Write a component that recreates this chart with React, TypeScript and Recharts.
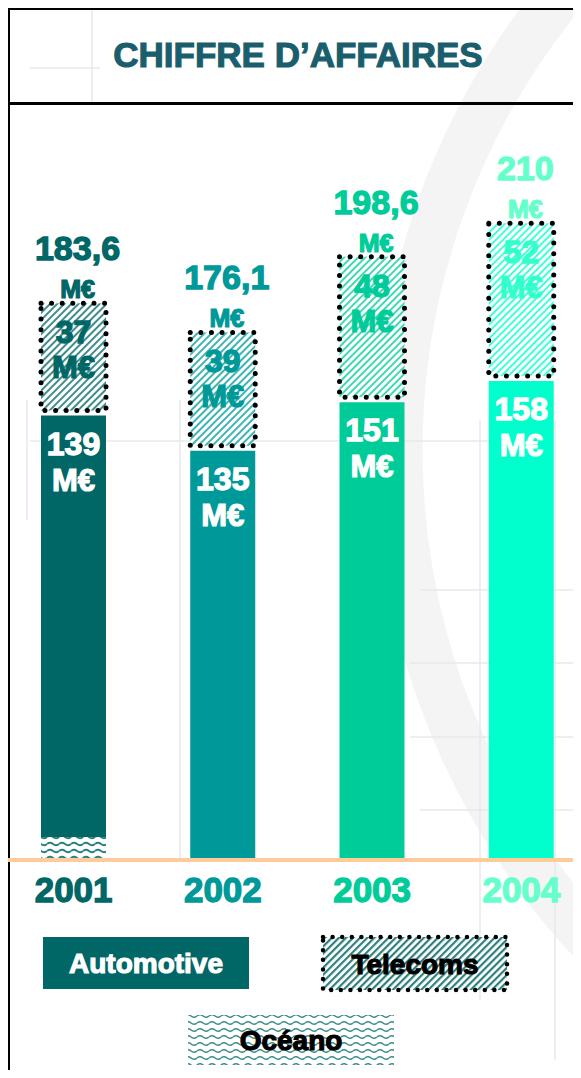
import React from "react";
import { BarChart, Bar, XAxis, YAxis, Cell, LabelList } from "recharts";

const years = ["2001", "2002", "2003", "2004"];
const automotive = [139, 135, 151, 158];
const telecoms = [37, 39, 48, 52];
const oceano = [7.6, 0, 0, 0];
const totals = ["183,6", "176,1", "198,6", "210"];
const barColors = ["#006666", "#009999", "#00cc99", "#00ffcc"];
const textColors = ["#006666", "#009999", "#00cc99", "#66ffcc"];
const telecomText = ["#006666", "#009999", "#00cc99", "#33ffcc"];

const data = years.map((year, i) => ({
  year,
  oceano: oceano[i],
  automotive: automotive[i],
  telecoms: telecoms[i],
}));

const FONT = "'Liberation Sans', Arial, sans-serif";

const TelecomShape = (props: any) => {
  const { x, y, width, height, payload } = props;
  if (!height) return null;
  const i = years.indexOf(payload.year);
  const h = height - 5;
  return (
    <g>
      <rect x={x} y={y} width={width} height={h} fill={`url(#hatch${i})`} />
      <rect
        x={x}
        y={y}
        width={width}
        height={h}
        fill="none"
        stroke="#000"
        strokeWidth={5}
        strokeDasharray="0 10.6"
        strokeLinecap="round"
      />
    </g>
  );
};

const twoLines = (cx: number, y1: number, y2: number, top: string, color: string, size: number, size2: number) => (
  <g fontFamily={FONT} fontWeight="bold" textAnchor="middle" fill={color}>
    <text x={cx} y={y1} fontSize={size} stroke={color} strokeWidth={1.3}>
      {top}
    </text>
    <text x={cx} y={y2} fontSize={size2} stroke={color} strokeWidth={1.2}>
      M€
    </text>
  </g>
);

const AutoLabel = (props: any) => {
  const { x, y, width, value } = props;
  return twoLines(x + width / 2, y + 39, y + 75, String(value), "#fff", 32, 31);
};

const TelecomLabel = (props: any) => {
  const { x, y, width, index, value } = props;
  return twoLines(x + width / 2, y + 40, y + 75, String(value), telecomText[index], 32, 31);
};

const TotalLabel = (props: any) => {
  const { x, y, width, index } = props;
  return twoLines(x + width / 2 + 4, y - 43, y - 5, totals[index], textColors[index], 34, 25);
};

const YearTick = (props: any) => {
  const { x, y, payload, index } = props;
  const c = textColors[index];
  return (
    <text
      x={x}
      y={y + 42}
      textAnchor="middle"
      fontFamily={FONT}
      fontWeight="bold"
      fontSize={35}
      fill={c}
      stroke={c}
      strokeWidth={1.3}
    >
      {payload.value}
    </text>
  );
};

function LegendBox({ left, top, w, h, kind, label }: any) {
  const tc = kind === "auto" ? "#fff" : "#000";
  return (
    <svg style={{ position: "absolute", left, top }} width={w + 6} height={h + 6}>
      <defs>
        <pattern id="lgHatch" patternUnits="userSpaceOnUse" width={5} height={5} patternTransform="rotate(45)">
          <rect width={5} height={5} fill="#fff" />
          <rect width={2.2} height={5} fill="#2f7f7f" />
        </pattern>
        <pattern id="lgWave" patternUnits="userSpaceOnUse" width={12} height={7}>
          <rect width={12} height={7} fill="#fff" />
          <path d="M0 4 Q3 1.5 6 4 T12 4" stroke="#3a8c8c" strokeWidth={1.6} fill="none" />
        </pattern>
      </defs>
      {kind === "auto" && <rect x={3} y={3} width={w} height={h} fill="#006666" />}
      {kind === "tel" && (
        <>
          <rect x={3} y={3} width={w} height={h} fill="url(#lgHatch)" />
          <rect
            x={3}
            y={3}
            width={w}
            height={h}
            fill="none"
            stroke="#000"
            strokeWidth={4.5}
            strokeDasharray="0 9.6"
            strokeLinecap="round"
          />
        </>
      )}
      {kind === "oce" && <rect x={3} y={3} width={w} height={h} fill="url(#lgWave)" />}
      <text
        x={3 + w / 2}
        y={3 + h / 2 + 10}
        textAnchor="middle"
        fontFamily={FONT}
        fontWeight="bold"
        fontSize={28}
        fill={tc}
        stroke={tc}
        strokeWidth={1.1}
      >
        {label}
      </text>
    </svg>
  );
}

export default function App() {
  return (
    <div style={{ position: "relative", margin: -8, width: 581, height: 1078, overflow: "hidden", background: "#fff" }}>
      <svg style={{ position: "absolute", left: 0, top: 0 }} width={581} height={1078}>
        <path d="M 565 -10 A 720 720 0 0 0 610 960" stroke="#f4f4f4" strokeWidth={48} fill="none" />
        <g stroke="#e8e8e8" strokeWidth={1.5}>
          <line x1={30} y1={68} x2={100} y2={68} />
          <line x1={92} y1={10} x2={92} y2={104} />
          <line x1={30} y1={441} x2={540} y2={441} />
          <line x1={27} y1={400} x2={27} y2={520} />
          <line x1={180} y1={400} x2={180} y2={860} />
          <line x1={480} y1={420} x2={480} y2={1000} />
          <line x1={555} y1={420} x2={555} y2={1060} />
          <line x1={420} y1={590} x2={581} y2={590} />
          <line x1={410} y1={663} x2={581} y2={663} />
          <line x1={410} y1={737} x2={581} y2={737} />
          <line x1={420} y1={810} x2={581} y2={810} />
        </g>
      </svg>

      <div style={{ position: "absolute", left: 7, top: 7, width: 600, height: 2000, borderLeft: "3px solid #000", borderTop: "3px solid #000" }} />
      <div style={{ position: "absolute", left: 7, top: 102, width: 600, borderTop: "3px solid #000" }} />
      <div
        style={{
          position: "absolute",
          left: 0,
          width: 596,
          top: 35,
          textAlign: "center",
          fontFamily: FONT,
          fontWeight: "bold",
          fontSize: 35,
          color: "#1a5e6d",
          WebkitTextStroke: "1.1px #1a5e6d",
        }}
      >
        CHIFFRE D’AFFAIRES
      </div>

      <div style={{ position: "absolute", left: -1, top: 0 }}>
        <BarChart width={597} height={1078} data={data} margin={{ top: 102, right: 0, bottom: 158, left: 0 }}>
          <defs>
            {barColors.map((c, i) => (
              <pattern
                key={i}
                id={`hatch${i}`}
                patternUnits="userSpaceOnUse"
                width={5}
                height={5}
                patternTransform="rotate(45)"
              >
                <rect width={5} height={5} fill="#fff" />
                <rect width={2} height={5} fill={c} fillOpacity={0.75} />
              </pattern>
            ))}
            <pattern id="waveBar" patternUnits="userSpaceOnUse" width={12} height={7}>
              <rect width={12} height={7} fill="#fff" />
              <path d="M0 4 Q3 1.5 6 4 T12 4" stroke="#2a7f7f" strokeWidth={1.8} fill="none" />
            </pattern>
          </defs>
          <YAxis hide type="number" domain={[0, 250]} />
          <XAxis
            dataKey="year"
            height={60}
            tickLine={false}
            tickSize={0}
            tickMargin={0}
            axisLine={{ stroke: "#ffcc99", strokeWidth: 4 }}
            tick={<YearTick />}
            interval={0}
          />
          <Bar dataKey="oceano" stackId="a" barSize={65} isAnimationActive={false}>
            {data.map((d, i) => (
              <Cell key={i} fill="url(#waveBar)" />
            ))}
          </Bar>
          <Bar dataKey="automotive" stackId="a" barSize={65} isAnimationActive={false}>
            {data.map((d, i) => (
              <Cell key={i} fill={barColors[i]} />
            ))}
            <LabelList dataKey="automotive" content={<AutoLabel />} />
          </Bar>
          <Bar dataKey="telecoms" stackId="a" barSize={65} isAnimationActive={false} shape={<TelecomShape />}>
            <LabelList dataKey="telecoms" content={<TelecomLabel />} />
            <LabelList dataKey="telecoms" content={<TotalLabel />} />
          </Bar>
        </BarChart>
      </div>

      <LegendBox left={40} top={934} w={206} h={52} kind="auto" label="Automotive" />
      <LegendBox left={320} top={934} w={184} h={53} kind="tel" label="Telecoms" />
      <LegendBox left={185} top={1012} w={206} h={50} kind="oce" label="Océano" />
    </div>
  );
}
